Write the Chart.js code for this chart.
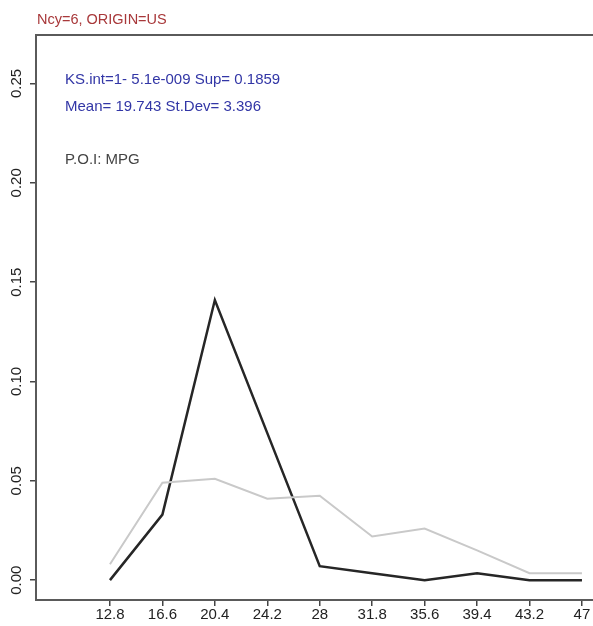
<!DOCTYPE html>
<html>
<head>
<meta charset="utf-8">
<script src="https://cdn.jsdelivr.net/npm/chart.js@4/dist/chart.umd.min.js"></script>
<style>
  html, body { margin: 0; padding: 0; background: #fff; overflow: hidden; }
  #wrap { width: 593px; height: 626px; }
</style>
</head>
<body>
<div id="wrap"><canvas id="chart" width="593" height="626"></canvas></div>
<script>
// MPG bins and the two frequency curves
var mpgBins = [12.8, 16.6, 20.4, 24.2, 28, 31.8, 35.6, 39.4, 43.2, 47];
var subsetFreq = [0.000, 0.033, 0.141, 0.074, 0.007, 0.0035, 0.000, 0.0035, 0.000, 0.000];
var allFreq = [0.008, 0.049, 0.051, 0.041, 0.0425, 0.022, 0.026, 0.015, 0.0035, 0.0035];
var yTicks = [0.00, 0.05, 0.10, 0.15, 0.20, 0.25];
var yTickLabels = ['0.00', '0.05', '0.10', '0.15', '0.20', '0.25'];

var titleText = 'Ncy=6, ORIGIN=US';
var statLines = ['KS.int=1- 5.1e-009 Sup= 0.1859', 'Mean= 19.743 St.Dev= 3.396'];
var poiText = 'P.O.I: MPG';

var FONT = '"Liberation Sans", Arial, sans-serif';

function toPoints(vals){
	return mpgBins.map(function(x, i){ return {x: x, y: vals[i]}; });
}

// header, in-plot notes and the rotated y labels
var notes = {
	id: 'notes',
	afterDraw: function(chart){
		var ctx = chart.ctx;
		var a = chart.chartArea;
		var ys = chart.scales.y;
		ctx.save();
		ctx.font = '14.5px ' + FONT;
		ctx.textBaseline = 'middle';
		ctx.fillStyle = '#a8383a';
		ctx.fillText(titleText, 37, 20);
		ctx.font = '15px ' + FONT;
		ctx.fillStyle = '#3236a6';
		ctx.fillText(statLines[0], a.left + 29, 80);
		ctx.fillText(statLines[1], a.left + 29, 107);
		ctx.fillStyle = '#444';
		ctx.fillText(poiText, a.left + 29, 160);

		// y labels read bottom-to-top, centred on their ticks
		ctx.fillStyle = '#222';
		ctx.textAlign = 'center';
		yTicks.forEach(function(v, i){
			var py = ys.getPixelForValue(v);
			ctx.save();
			ctx.translate(17, py);
			ctx.rotate(-Math.PI / 2);
			ctx.fillText(yTickLabels[i], 0, 0);
			ctx.restore();
		});
		ctx.restore();
	}
};

var ctx = document.getElementById('chart').getContext('2d');
var mychart = new Chart(ctx, {
	type: 'line',
	data: {
		datasets: [{
			data: toPoints(allFreq),
			borderColor: '#c9c9c9',
			borderWidth: 2,
			pointRadius: 0,
			tension: 0
		}, {
			data: toPoints(subsetFreq),
			borderColor: '#262626',
			borderWidth: 2.5,
			pointRadius: 0,
			tension: 0
		}]
	},
	options: {
		responsive: false,
		animation: false,
		layout: { padding: { top: 35, right: 0, left: 0, bottom: 0 } },
		plugins: {
			legend: { display: false },
			tooltip: { enabled: false }
		},
		scales: {
			x: {
				type: 'linear',
				position: 'bottom',
				min: 7.44,
				max: 47.8,
				afterBuildTicks: function(s){ s.ticks = mpgBins.map(function(v){ return {value: v}; }); },
				afterFit: function(s){ s.height = 26; },
				border: { display: true, color: '#5a5a5a', width: 2 },
				grid: { drawOnChartArea: false, drawTicks: true, tickLength: 6, color: '#444', lineWidth: 1.5 },
				ticks: {
					color: '#222',
					padding: 0,
					maxRotation: 0,
					autoSkip: false,
					font: { family: FONT, size: 15 },
					callback: function(v){ return String(v); }
				}
			},
			xTop: {
				type: 'linear',
				position: 'top',
				min: 7.44,
				max: 47.8,
				afterFit: function(s){ s.height = 0; },
				border: { display: true, color: '#5a5a5a', width: 2 },
				grid: { display: false },
				ticks: { display: false }
			},
			y: {
				min: -0.01,
				max: 0.2744,
				afterBuildTicks: function(s){ s.ticks = yTicks.map(function(v){ return {value: v}; }); },
				afterFit: function(s){ s.width = 36; },
				border: { display: true, color: '#5a5a5a', width: 2 },
				grid: { drawOnChartArea: false, drawTicks: true, tickLength: 6, color: '#444', lineWidth: 1.5 },
				ticks: {
					color: 'rgba(0,0,0,0)',
					autoSkip: false,
					font: { family: FONT, size: 15 }
				}
			}
		}
	},
	plugins: [notes]
});
</script>
</body>
</html>
